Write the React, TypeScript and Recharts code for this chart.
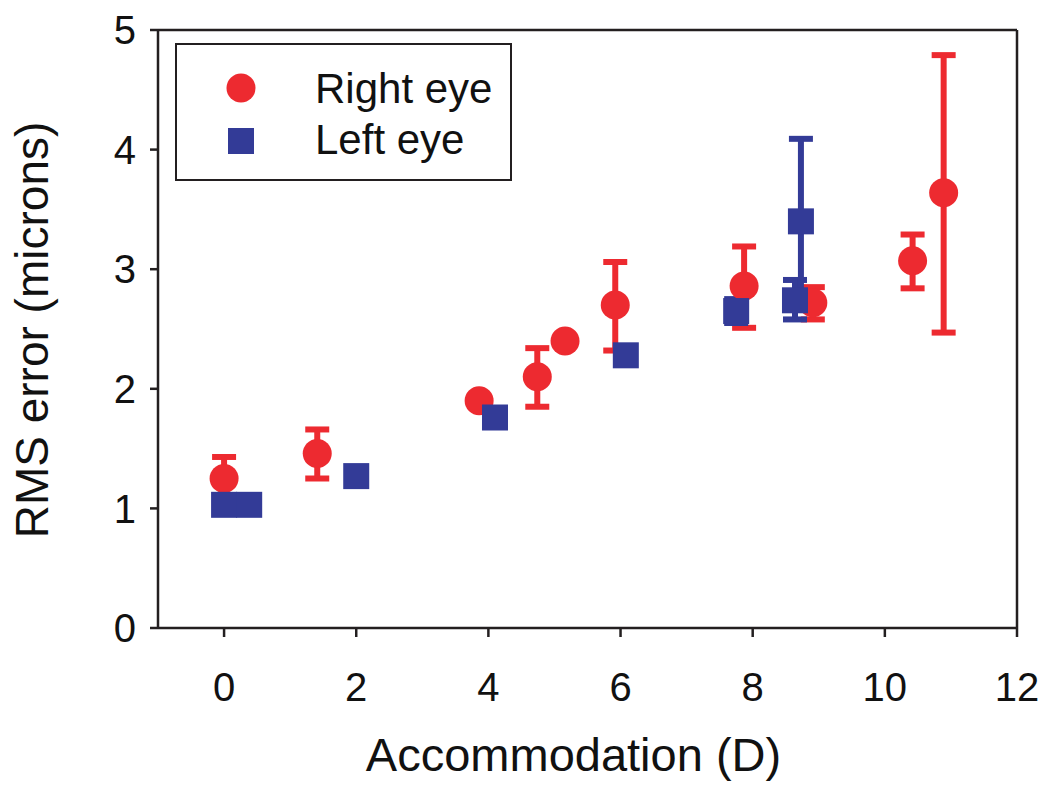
import React from 'react';
import {
    ScatterChart,
    Scatter,
    XAxis,
    YAxis,
    ErrorBar,
    ReferenceLine,
    Label,
    Legend,
} from 'recharts';

// Right eye (red circles)
const rightX = [0, 1.41, 3.86, 4.74, 5.16, 5.92, 7.87, 8.91, 10.42, 10.89];
const rightY = [1.25, 1.46, 1.9, 2.1, 2.4, 2.7, 2.86, 2.72, 3.07, 3.64];
const rightErrLow = [0.17, 0.21, 0.02, 0.25, 0.03, 0.38, 0.35, 0.14, 0.23, 1.17];
const rightErrHigh = [0.18, 0.2, 0.02, 0.24, 0.03, 0.36, 0.33, 0.13, 0.22, 1.15];

// Left eye (blue squares)
const leftX = [0, 0.38, 2.0, 4.1, 6.08, 7.75, 8.64, 8.73];
const leftY = [1.03, 1.03, 1.27, 1.76, 2.28, 2.65, 2.74, 3.4];
const leftErrLow = [0, 0, 0, 0, 0, 0.1, 0.16, 0.68];
const leftErrHigh = [0, 0, 0, 0, 0, 0.1, 0.17, 0.69];

const xTicks = [0, 2, 4, 6, 8, 10, 12];
const yTicks = [0, 1, 2, 3, 4, 5];

const RED = '#ED2A30';
const BLUE = '#333B97';
const INK = '#231F20';
const FONT = 'Liberation Sans, Arial, Helvetica, sans-serif';

const rightData = rightX.map((x, i) => ({
    x,
    y: rightY[i],
    err: [rightErrLow[i], rightErrHigh[i]],
}));
const leftData = leftX.map((x, i) => ({
    x,
    y: leftY[i],
    err: [leftErrLow[i], leftErrHigh[i]],
}));

const Dot = (props: any) => <circle cx={props.cx} cy={props.cy} r={14.5} fill={RED} />;
const Box = (props: any) => (
    <rect x={props.cx - 13} y={props.cy - 13} width={26} height={26} fill={BLUE} />
);

function LegendBox() {
    return (
        <div
            style={{
                position: 'absolute',
                left: 175,
                top: 43,
                width: 333,
                height: 134,
                border: `2px solid ${INK}`,
                background: '#fff',
            }}
        >
            <svg width={333} height={134} style={{ position: 'absolute', left: 0, top: 0 }}>
                <circle cx={64} cy={43} r={14.5} fill={RED} />
                <rect x={51} y={83} width={26} height={26} fill={BLUE} />
                <text x={138} y={58} fontSize={42} fontFamily={FONT} fill="#111">
                    Right eye
                </text>
                <text x={138} y={109} fontSize={42} fontFamily={FONT} fill="#111">
                    Left eye
                </text>
            </svg>
        </div>
    );
}

export default function App() {
    return (
        <div style={{ position: 'absolute', left: 0, top: 0, width: 1050, height: 793, background: '#fff' }}>
            <ScatterChart
                width={1050}
                height={793}
                margin={{ top: 30, right: 33, left: 0, bottom: 0 }}
            >
                <XAxis
                    type="number"
                    dataKey="x"
                    domain={[-1, 12]}
                    ticks={xTicks}
                    allowDataOverflow
                    height={165}
                    tickSize={9}
                    tickMargin={36}
                    stroke={INK}
                    strokeWidth={2.5}
                    tick={{ fontSize: 40, fontFamily: FONT, fill: '#111' }}
                >
                    <Label
                        content={(p: any) => (
                            <text
                                x={p.viewBox.x + p.viewBox.width / 2 - 14}
                                y={771}
                                textAnchor="middle"
                                fontSize={47}
                                fontFamily={FONT}
                                fill="#111"
                            >
                                Accommodation (D)
                            </text>
                        )}
                    />
                </XAxis>
                <YAxis
                    type="number"
                    dataKey="y"
                    domain={[0, 5]}
                    ticks={yTicks}
                    allowDataOverflow
                    width={158}
                    tickSize={8}
                    tickMargin={14}
                    stroke={INK}
                    strokeWidth={2.5}
                    tick={{ fontSize: 40, fontFamily: FONT, fill: '#111' }}
                >
                    <Label
                        content={() => (
                            <text
                                x={48}
                                y={330}
                                transform="rotate(-90 48 330)"
                                textAnchor="middle"
                                fontSize={46}
                                fontFamily={FONT}
                                fill="#111"
                            >
                                RMS error (microns)
                            </text>
                        )}
                    />
                </YAxis>
                <ReferenceLine y={5} stroke={INK} strokeWidth={2.5} />
                <ReferenceLine x={12} stroke={INK} strokeWidth={2.5} />
                <Legend content={() => <LegendBox />} wrapperStyle={{ left: 0, top: 0, width: 0, height: 0 }} />
                <Scatter
                    name="Right eye"
                    data={rightData}
                    shape={Dot}
                    isAnimationActive={false}
                >
                    <ErrorBar dataKey="err" direction="y" width={12} strokeWidth={6} stroke={RED} />
                </Scatter>
                <Scatter
                    name="Left eye"
                    data={leftData}
                    shape={Box}
                    isAnimationActive={false}
                >
                    <ErrorBar dataKey="err" direction="y" width={12} strokeWidth={6} stroke={BLUE} />
                </Scatter>
            </ScatterChart>
        </div>
    );
}
